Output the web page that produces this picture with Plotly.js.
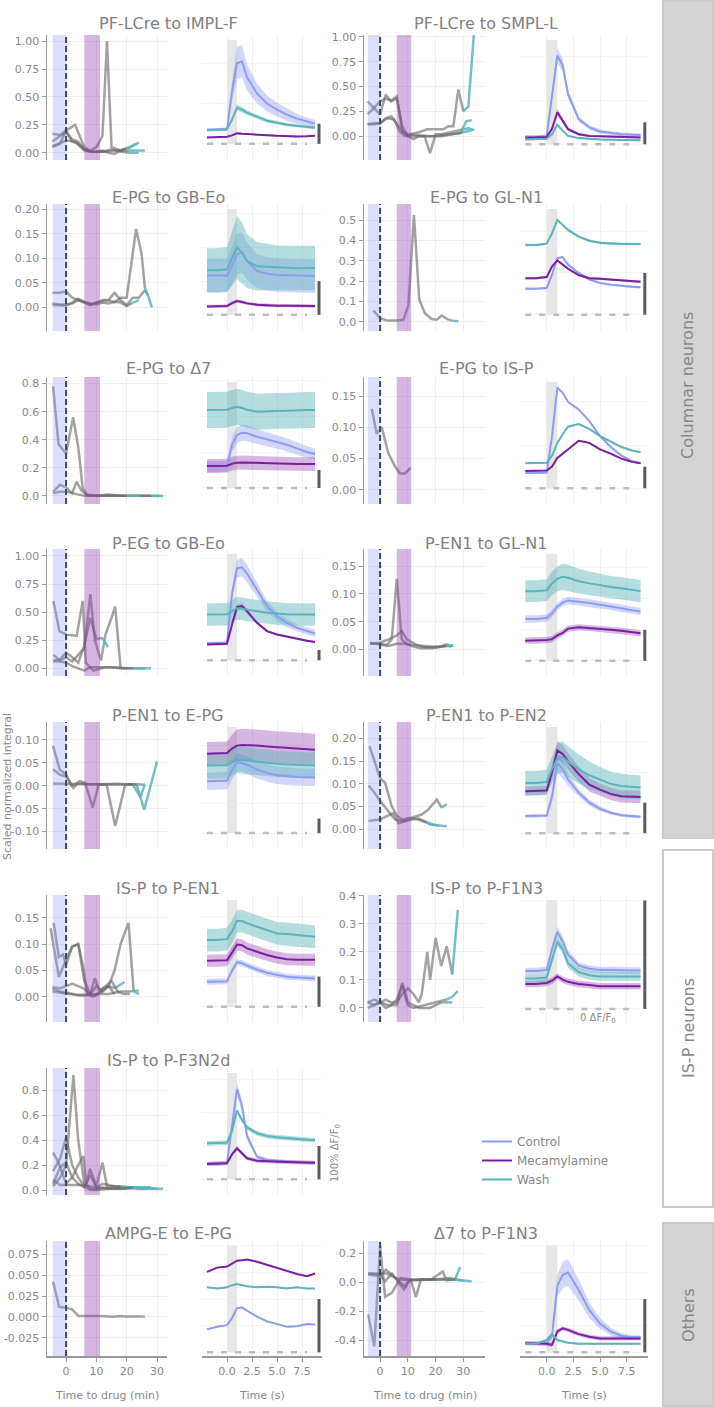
<!DOCTYPE html>
<html>
<head>
<meta charset="utf-8">
<script src="https://cdn.plot.ly/plotly-3.0.1.min.js"></script>
<style>
  body { margin: 0; background: #fff; }
  #chart { width: 714px; height: 1407px; }
</style>
</head>
<body>
<div id="chart"></div>
<script>
// ---- data ----

var panelTitles = ['PF-LCre to IMPL-F', 'PF-LCre to SMPL-L', 'E-PG to GB-Eo', 'E-PG to GL-N1',
  'E-PG to Δ7', 'E-PG to IS-P', 'P-EG to GB-Eo', 'P-EN1 to GL-N1', 'P-EN1 to E-PG',
  'P-EN1 to P-EN2', 'IS-P to P-EN1', 'IS-P to P-F1N3', 'IS-P to P-F3N2d',
  'AMPG-E to E-PG', 'Δ7 to P-F1N3'];

// time of the averaged responses (s)
var traceTime = [-2, -1, 0, 0.5, 1, 1.5, 2, 3, 4, 5, 6, 7, 8, 8.8];

// mean response, in units of the 100% dF/F0 scale bar, one row per panel
var controlMean = [
  [0.7,0.7,0.72,2.6,4.0,4.1,3.3,2.5,2.0,1.7,1.45,1.25,1.1,1.0],
  [0.34,0.34,0.38,2.2,4.05,3.6,2.3,1.15,0.77,0.58,0.51,0.46,0.43,0.42],
  [1.17,1.16,1.17,1.45,1.8,1.85,1.6,1.3,1.22,1.18,1.17,1.16,1.15,1.15],
  [0.62,0.62,0.64,0.95,1.35,1.38,1.2,1.0,0.84,0.76,0.72,0.69,0.67,0.66],
  [1.19,1.19,1.22,2.4,2.95,3.07,3.05,2.85,2.7,2.57,2.4,2.2,2.0,1.89],
  [0.7,0.7,0.72,2.4,4.66,4.42,4.0,3.65,3.11,2.41,1.91,1.51,1.25,1.16],
  [1.65,1.65,1.7,6.5,9.0,9.1,8.5,6.9,5.3,4.3,3.66,3.17,2.85,2.62],
  [1.35,1.35,1.38,1.53,1.75,1.88,1.95,1.92,1.87,1.81,1.76,1.7,1.63,1.59],
  [3.56,3.56,3.6,4.3,4.85,4.8,4.69,4.35,4.13,3.97,3.9,3.85,3.83,3.83],
  [0.56,0.56,0.58,1.2,2.3,2.1,1.76,1.33,1.0,0.8,0.67,0.59,0.55,0.54],
  [0.83,0.83,0.85,1.2,1.48,1.45,1.37,1.24,1.13,1.06,1.0,0.97,0.95,0.94],
  [0.35,0.35,0.36,0.55,0.71,0.62,0.5,0.4,0.37,0.36,0.36,0.355,0.355,0.355],
  [0.48,0.48,0.5,1.6,2.7,2.2,1.3,0.68,0.58,0.55,0.53,0.52,0.5,0.5],
  [0.43,0.48,0.51,0.64,0.83,0.84,0.78,0.67,0.58,0.53,0.48,0.49,0.53,0.52],
  [0.17,0.17,0.18,0.3,1.25,1.45,1.5,1.17,0.79,0.54,0.39,0.31,0.28,0.28]
];
var controlSem = [
  [0.08,0.08,0.1,0.5,0.8,0.8,0.65,0.5,0.4,0.35,0.3,0.25,0.2,0.18],
  [0.08,0.08,0.08,0.25,0.35,0.3,0.2,0.12,0.1,0.1,0.08,0.08,0.08,0.08],
  [0.5,0.5,0.5,0.55,0.6,0.6,0.55,0.5,0.5,0.5,0.5,0.5,0.5,0.5],
  0.03,
  [0.3,0.3,0.3,0.4,0.45,0.45,0.45,0.42,0.4,0.38,0.36,0.34,0.32,0.3],
  0.04,
  [0.15,0.15,0.15,0.5,0.9,0.9,0.85,0.7,0.55,0.45,0.4,0.35,0.35,0.35],
  0.12,
  0.6,
  [0.05,0.05,0.05,0.2,0.3,0.3,0.2,0.12,0.1,0.08,0.06,0.05,0.05,0.05],
  0.1,
  [0.03,0.03,0.03,0.04,0.05,0.05,0.04,0.03,0.03,0.03,0.03,0.03,0.03,0.03],
  [0.05,0.05,0.05,0.15,0.2,0.18,0.12,0.06,0.05,0.05,0.05,0.05,0.05,0.05],
  0.01,
  [0.02,0.02,0.02,0.06,0.2,0.25,0.25,0.2,0.15,0.1,0.07,0.05,0.04,0.04]
];
var mecMean = [
  [0.32,0.33,0.35,0.42,0.52,0.5,0.48,0.45,0.43,0.4,0.38,0.37,0.38,0.4],
  [0.3,0.31,0.33,0.7,1.46,1.08,0.69,0.46,0.38,0.36,0.34,0.33,0.32,0.31],
  [0.25,0.25,0.26,0.35,0.41,0.38,0.34,0.3,0.28,0.27,0.27,0.26,0.26,0.26],
  [0.875,0.875,0.9,1.15,1.3,1.2,1.1,0.95,0.875,0.86,0.84,0.82,0.8,0.79],
  [1.22,1.22,1.24,1.35,1.41,1.42,1.41,1.38,1.36,1.35,1.34,1.33,1.33,1.33],
  [0.8,0.8,0.82,1.0,1.4,1.6,1.8,2.2,2.1,1.8,1.6,1.37,1.22,1.16],
  [1.55,1.55,1.6,3.5,5.2,5.3,4.8,3.66,2.85,2.52,2.3,2.1,1.9,1.78],
  [0.65,0.65,0.67,0.7,0.82,0.9,1.04,1.08,1.06,1.04,1.0,0.97,0.92,0.89],
  [5.44,5.44,5.49,5.8,6.0,6.05,6.05,6.0,5.94,5.9,5.83,5.78,5.74,5.71],
  [1.38,1.38,1.4,2.0,2.72,2.6,2.36,1.94,1.59,1.43,1.29,1.21,1.19,1.19],
  [1.53,1.53,1.55,1.8,2.07,2.05,1.94,1.83,1.72,1.64,1.58,1.56,1.56,1.56],
  [0.23,0.23,0.24,0.26,0.3,0.27,0.25,0.23,0.22,0.21,0.21,0.21,0.21,0.21],
  [0.46,0.46,0.48,0.75,0.93,0.78,0.63,0.56,0.54,0.53,0.52,0.51,0.5,0.5],
  [1.51,1.59,1.61,1.66,1.72,1.73,1.74,1.7,1.64,1.58,1.53,1.47,1.43,1.48],
  [0.17,0.17,0.16,0.14,0.39,0.45,0.42,0.34,0.29,0.26,0.26,0.26,0.26,0.26]
];
var mecSem = [
  0.04,
  [0.05,0.05,0.05,0.1,0.15,0.12,0.08,0.06,0.05,0.05,0.05,0.05,0.05,0.05],
  0.05, 0.03, 0.38, 0.04,
  [0.1,0.1,0.1,0.2,0.3,0.3,0.25,0.15,0.1,0.1,0.1,0.1,0.1,0.1],
  0.1,
  [0.8,0.8,0.8,0.95,1.1,1.1,1.1,1.1,1.1,1.1,1.1,1.1,1.1,1.1],
  [0.15,0.15,0.15,0.25,0.3,0.3,0.28,0.25,0.22,0.2,0.2,0.2,0.2,0.2],
  0.2, 0.03, 0.06, 0.01, 0.04
];
var washMean = [
  [0.68,0.7,0.72,1.2,1.8,1.7,1.55,1.35,1.15,1.05,0.95,0.9,0.85,0.8],
  [0.22,0.23,0.25,0.45,0.89,0.62,0.38,0.28,0.24,0.22,0.21,0.2,0.19,0.18],
  [1.32,1.32,1.35,1.65,2.0,1.85,1.6,1.44,1.42,1.4,1.39,1.38,1.39,1.39],
  [1.67,1.67,1.7,1.95,2.27,2.15,2.03,1.87,1.77,1.72,1.7,1.69,1.69,1.69],
  [4.33,4.33,4.35,4.45,4.52,4.45,4.35,4.24,4.24,4.28,4.3,4.33,4.33,4.33],
  [1.16,1.16,1.18,1.5,2.1,2.5,2.85,2.97,2.75,2.41,2.17,1.91,1.75,1.67],
  [4.47,4.47,4.5,4.8,5.1,5.05,4.95,4.8,4.65,4.56,4.5,4.47,4.47,4.47],
  [2.25,2.25,2.28,2.5,2.65,2.71,2.68,2.57,2.5,2.43,2.38,2.34,2.3,2.25],
  [4.63,4.63,4.65,4.85,5.03,5.0,4.99,4.9,4.81,4.75,4.7,4.67,4.65,4.63],
  [1.65,1.65,1.68,2.1,2.45,2.5,2.35,2.1,1.9,1.75,1.62,1.55,1.52,1.5],
  [2.22,2.22,2.25,2.5,2.85,2.85,2.78,2.67,2.56,2.44,2.42,2.39,2.35,2.33],
  [0.28,0.28,0.29,0.45,0.62,0.55,0.42,0.34,0.31,0.3,0.3,0.3,0.3,0.3],
  [1.08,1.08,1.1,1.45,2.06,1.78,1.56,1.38,1.3,1.26,1.23,1.21,1.19,1.18],
  [1.22,1.2,1.22,1.26,1.28,1.26,1.24,1.22,1.23,1.22,1.2,1.22,1.2,1.2],
  [0.16,0.16,0.23,0.34,0.23,0.2,0.18,0.16,0.16,0.16,0.16,0.16,0.16,0.16]
];
var washSem = [
  [0.06,0.06,0.06,0.1,0.15,0.14,0.12,0.1,0.09,0.08,0.08,0.07,0.07,0.07],
  0.04,
  [0.66,0.66,0.66,0.8,0.93,0.9,0.8,0.72,0.68,0.66,0.66,0.66,0.66,0.66],
  0.03, 1.0, 0.04, 1.1,
  [0.35,0.35,0.35,0.38,0.4,0.42,0.42,0.4,0.38,0.37,0.36,0.36,0.36,0.36],
  0.9,
  [0.4,0.4,0.4,0.45,0.5,0.5,0.5,0.48,0.45,0.42,0.4,0.4,0.4,0.4],
  0.38, 0.04, 0.07, 0.01, 0.02
];

// scaled normalized integral vs time to drug (min); several experiments per panel
var drugTimes = [
  [[-4.5,-2,0,3,6,8,10,12,13.5,15,18,21,24],
   [-4.5,-2,0,2,4,6,8,10,13,16,19,22,26],
   [-4.5,-2,0,2,4,6,8,10,12,14,16,18,20,23],
   [-4.5,-2,0,3,6,9,12,15,18,21,24]],
  [[-4.5,-2,0,2.5,5,7,9,11,14,17,20,22.8,24.6,26.4,28.2,30,31.8,34],
   [-4.5,-2,0,2,4,6,8,10,12,14,16,18,20,22,24,27,30,32,34],
   [-4.5,-2,0,2,4,6,8,10,14,18,22,26,29,31,33],
   [-4.5,-2.5,0,2,4,6,8,10,14,18,22,26,30,33]],
  [[-4.5,-2,0,2,4,6,8,10,12,14,16,18,20,23.1,24.9,26,27,28.3],
   [-4.5,-2,0,2,4,6,8,10,12,14,16,18,20,22,24,26,27],
   [-4.5,-2,0,2,4,6,8,10,12,14,16,18,20,22,24]],
  [[-2.4,0,2.4,6,8.4,10.2,12.2,14.1,16.2,18.6,20.4,22.2,24.6,26.4,28.2]],
  [[-4.3,-2.5,0,2.3,4,5.5,7,10,14,18,22,26,29,32],
   [-4.3,-2,0,2,3.5,5,7,10,15,20,25,28,31],
   [-4.3,-2,0,2,4,6,8,12,16,20,24]],
  [[-3,-1.2,0.6,3,5.4,7.2,9,11]],
  [[-4.2,-2.2,0,3.5,5.5,6.5,9,13,16,20,24,26],
   [-4.2,-2,0,2,4,6,8,9.5,11.5,13,15,16.2,18,20],
   [-4.2,-2,0,2,4,6,8,10,12,13.8],
   [-4.2,-2,0,2,4,6,8,10,14,18,22,25,28]],
  [[-3.6,0,2.4,4.2,6,7.8,9.6,11.4,14.4,18.6,21.6,24,25.2,26.4],
   [-3.6,0,3,6,7.8,9.6,13.2,16,20,24,26],
   [-3.6,0,3,6,9,12,15,18,21,24,26]],
  [[-4.3,-2.1,0,1.9,4.6,6.3,8.8,10.7,13.4,16.2,19.5,23.3,25.8,30],
   [-4.3,-2.1,0,2.4,4,8,12,16,20,22,24.5,26],
   [-4.3,0,4,8,12,16,20,24,26]],
  [[-3.8,-2,0,1.8,4.2,6,7.8,10.8,13.8,16.8,18,21,24],
   [-4.2,-2,0,2.4,5.4,8.4,11.4,13.8,16.8,19,21],
   [-4.2,-2,0,3,4.8,6.6,9,12,15,17.4,20.4,22.2,24]],
  [[-5.1,-2.4,0,2,4,5.5,7,9,12,14,16,18,20.6,22.3,24],
   [-4.1,-2.4,-1,0,2,4,6,8,10,12,14,16],
   [-4.5,-2,0,2,4,6,8,10,12,14,16,19.3],
   [-4.5,-2,0,2,4,6,8,10,12,14,18,21,24],
   [-4.5,-2,0,2,4,6,8,9.5,11,13,15,17,19,21]],
  [[-4.5,-2,0,2,4,6,8,10,12,14,15,17,18,20,22,24,26,28],
   [-4.5,-2,0,2,4,6,8,10,12,16,20,24,26,28],
   [-4.5,0,3,6,8,10,14,18,22,26]],
  [[-4.3,-2,0,2.4,4,6,8,10,12,16,20,24,28],
   [-4.3,-2,0,2,4,6,8,10,14,18,22,26,30],
   [-4.3,-2.5,0,2,4,5.7,6.7,7.9,10,12,13.5,16,20,24,28],
   [-4.3,-2,0,2,4,6,8,10,12,14,16,18,22,26],
   [-4.3,-2,0,3,6,10,14,18,22,26,30,32]],
  [[-4.3,-2.3,0,1.9,4.1,6.8,11.2,15.6,17.8,20,23,25,26]],
  [[-4.3,-2.1,0,1.8,4.3,7.3,11,12.9,14.7,18.4,22.6,23.9,27,28.8],
   [-4.3,0,1.8,4.3,8.6,11,15,20,25,28.8,33],
   [-4.3,0,2.1,4.3,6.7,8.9,10.4,15.3,20.2,25,30],
   [-4.3,0,2.5,6.8,11,17.5,27]]
];
var drugValues = [
  [[0.05,0.08,0.2,0.25,0.05,0.02,0.05,0.15,1.0,0.05,0.02,0.045,0.09],
   [0.1,0.15,0.18,0.12,0.1,0.03,0.01,0.01,0.01,0.02,0.02,0.02,0.02],
   [0.17,0.16,0.2,0.1,0.08,0.03,0.01,0.01,0.02,0.0,-0.01,0.02,0.04,0.08],
   [0.06,0.09,0.11,0.1,0.02,0.01,0.01,0.03,0.01,0.0,0.0]],
  [[0.12,0.12,0.13,0.18,0.17,0.05,0.0,0.02,0.04,0.07,0.07,0.07,0.1,0.1,0.47,0.25,0.3,1.1],
   [0.35,0.28,0.22,0.42,0.35,0.38,0.1,0.0,-0.03,0.0,0.0,-0.17,0.02,0.02,0.03,0.05,0.07,0.08,0.06],
   [0.12,0.13,0.13,0.18,0.2,0.12,0.05,0.0,0.0,0.0,0.01,0.02,0.03,0.15,0.16],
   [0.22,0.28,0.35,0.38,0.36,0.4,0.05,0.02,0.01,0.0,0.0,0.02,0.04,0.06]],
  [[0.03,0.03,0.033,0.02,0.015,0.01,0.005,0.01,0.015,0.015,0.01,0.02,0.02,0.16,0.11,0.04,0.025,0.0],
   [0.008,0.006,0.006,0.008,0.015,0.01,0.005,0.01,0.012,0.015,0.03,0.015,0.005,0.02,0.02,0.035,0.025],
   [0.005,0.004,0.004,0.01,0.018,0.012,0.008,0.006,0.01,0.008,0.012,0.01,0.003,0.01,0.015]],
  [[0.055,0.017,0.006,0.006,0.01,0.08,0.525,0.11,0.04,0.013,0.01,0.03,0.01,0.004,0.002]],
  [[0.78,0.37,0.3,0.56,0.35,0.05,0.01,0.0,0.01,0.0,0.0,0.0,0.0,0.0],
   [0.03,0.08,0.06,0.02,0.1,0.04,0.0,0.0,0.0,0.0,0.0,0.0,0.0],
   [0.02,0.03,0.03,0.02,0.01,0.0,0.0,0.0,0.0,0.0,0.0]],
  [[0.13,0.09,0.1,0.058,0.037,0.026,0.026,0.035]],
  [[0.6,0.33,0.3,0.29,0.6,0.05,-0.02,0.01,0.01,0.0,0.0,0.0],
   [0.12,0.07,0.1,0.06,0.12,0.18,0.66,0.25,0.07,0.3,0.45,0.55,0.0,0.0],
   [0.07,0.08,0.14,0.1,0.05,0.2,0.45,0.26,0.27,0.19],
   [0.06,0.06,0.05,0.02,0.0,-0.02,0.01,0.01,0.01,0.0,0.0,0.0,0.0]],
  [[0.01,0.01,0.008,0.018,0.127,0.018,0.01,0.006,0.002,0.002,0.004,0.01,0.005,0.007],
   [0.01,0.012,0.018,0.025,0.033,0.018,0.008,0.004,0.004,0.006,0.008],
   [0.012,0.008,0.006,0.01,0.01,0.008,0.006,0.005,0.005,0.006,0.007]],
  [[0.087,0.035,0.025,0.0,0.01,0.006,-0.048,0.002,0.002,-0.088,0.002,0.002,-0.052,0.053],
   [0.036,0.024,0.02,-0.005,0.005,0.003,0.003,0.004,0.003,0.003,-0.025,0.003],
   [0.005,0.004,0.003,0.003,0.003,0.004,0.003,0.003,0.002]],
  [[0.183,0.15,0.112,0.102,0.05,0.03,0.021,0.025,0.021,0.014,0.01,0.008,0.006],
   [0.096,0.08,0.062,0.043,0.021,0.018,0.02,0.023,0.015,0.01,0.008],
   [0.018,0.019,0.021,0.03,0.035,0.013,0.017,0.026,0.032,0.043,0.065,0.047,0.055]],
  [[0.13,0.038,0.07,0.095,0.1,0.06,0.005,0.0,0.01,0.02,0.05,0.1,0.14,0.01,0.005],
   [0.14,0.075,0.08,0.06,0.095,0.1,0.03,0.005,0.003,0.015,0.02,0.005],
   [0.018,0.016,0.02,0.025,0.02,0.015,0.005,0.02,0.01,0.02,0.016,0.028],
   [0.01,0.008,0.005,0.004,0.003,0.004,0.003,0.005,0.005,0.005,0.01,0.01,0.012],
   [0.015,0.01,0.008,0.005,0.003,0.002,0.005,0.035,0.01,0.02,0.03,0.01,0.005,0.005]],
  [[0.02,0.03,0.02,0.03,0.02,0.02,0.05,0.07,0.05,0.02,0.05,0.2,0.1,0.25,0.15,0.22,0.12,0.35],
   [0.02,0.01,0.02,0.0,0.01,0.03,0.08,0.01,0.0,0.01,0.02,0.03,0.04,0.06],
   [0.0,0.02,0.01,0.01,0.09,0.02,0.0,0.0,0.02,0.02]],
  [[0.03,0.1,0.2,0.92,0.4,0.05,0.01,0.01,0.02,0.01,0.01,0.02,0.02],
   [0.15,0.25,0.42,0.2,0.1,0.03,0.0,0.0,0.01,0.02,0.02,0.01,0.01],
   [0.3,0.22,0.05,0.1,0.2,0.27,0.05,0.17,0.03,0.22,0.03,0.03,0.02,0.01,0.02],
   [0.05,0.18,0.22,0.1,0.05,0.02,0.12,0.02,0.05,0.04,0.03,0.03,0.02,0.01],
   [0.08,0.04,0.04,0.04,0.04,0.02,0.01,0.01,0.02,0.02,0.01,0.01]],
  [[0.042,0.012,0.011,0.009,0.001,0.001,0.001,0.0,0.001,0.0005,0.0,0.0005,0.0]],
  [[-0.22,-0.44,0.25,-0.1,-0.07,0.03,0.02,-0.1,0.02,0.02,0.075,0.014,0.02,0.105],
   [0.06,0.053,0.007,0.06,-0.05,0.02,0.02,0.02,0.03,0.014,0.007],
   [0.053,0.04,0.087,0.053,0.007,-0.027,0.014,0.018,0.02,0.02,0.014],
   [0.06,0.06,0.06,0.02,0.014,0.02,0.02]]
];
// index of the first wash point in each experiment (99 = no wash recorded)
var washFrom = [
  [11, 10, 12, 9], [15, 16, 12, 12], [15, 15, 13], [13], [12, 11, 9], [99],
  [10, 12, 8, 10], [11, 9, 9], [11, 9, 7], [9, 8, 11], [13, 99, 10, 11, 99],
  [16, 11, 8], [10, 10, 12, 11, 8], [11], [12, 9, 8, 99]
];

// ---- layout of the grid ----
var W = 714, H = 1407;
var drugCols = [[47, 167], [364, 485]];
var traceCols = [[202, 322], [520, 648]];
var rowTop = [35, 204, 377, 549, 722, 895, 1068, 1241];
var rowBot = [160, 331, 504, 676, 849, 1022, 1195, 1356];
var panelRow = [0, 0, 1, 1, 2, 2, 3, 3, 4, 4, 5, 5, 6, 7, 7];
var panelSide = [0, 1, 0, 1, 0, 1, 0, 1, 0, 1, 0, 1, 0, 0, 1];
var drugXRange = [[-6.3, 33.3], [-5.8, 37.8]];
var drugYRange = [[-0.065, 1.055], [-0.24, 1.02], [-0.048, 0.211], [-0.046, 0.58],
  [-0.058, 0.847], [-0.023, 0.181], [-0.068, 1.062], [-0.048, 0.181], [-0.138, 0.139],
  [-0.044, 0.236], [-0.048, 0.193], [-0.05, 0.403], [-0.04, 0.976], [-0.047, 0.091],
  [-0.506, 0.284]];
var drugDtick = [0.25, 0.25, 0.05, 0.1, 0.2, 0.05, 0.25, 0.05, 0.05, 0.05, 0.05, 0.1, 0.2, 0.025, 0.2];
var drugDec = [2, 2, 2, 1, 1, 2, 2, 2, 2, 2, 2, 1, 1, 3, 1];
var traceYRange = [[-0.8, 5.4], [-0.72, 4.99], [-0.48, 3.29], [-0.39, 2.65], [-0.89, 6.17],
  [-0.73, 5.15], [-1.55, 10.9], [-0.49, 3.61], [-1.09, 7.62], [-0.52, 3.65], [-0.51, 3.72],
  [-0.12, 1.05], [-0.47, 3.34], [-0.07, 2.09], [-0.07, 2.09]];
var titleX = [168, 486];
var titleY = [23, 197, 368, 543, 715, 888, 1060, 1233];

var CTL = '#8e9cf0', MEC = '#7b1fa2', WASH = '#5cb3ba';
var TXT = '#878787';

function ax(n) { return n === 1 ? '' : String(n); }
function semAt(e, i) { return Array.isArray(e) ? e[i] : e; }

function bandTrace(mean, sem, color, xa, ya) {
  var up = mean.map(function (v, i) { return v + semAt(sem, i); });
  var dn = mean.map(function (v, i) { return v - semAt(sem, i); }).reverse();
  return {
    x: traceTime.concat(traceTime.slice().reverse()), y: up.concat(dn),
    xaxis: xa, yaxis: ya, mode: 'lines', fill: 'toself', fillcolor: color,
    line: {width: 0}, hoverinfo: 'skip', showlegend: false
  };
}

function yTicks(p) {
  var lo = drugYRange[p][0], hi = drugYRange[p][1], dt = drugDtick[p];
  var vals = [], txt = [];
  for (var k = Math.ceil(lo / dt - 1e-9); k * dt <= hi + 1e-9; k++) {
    var v = Math.round(k * dt * 1000) / 1000;
    vals.push(v);
    txt.push((v === 0 ? 0 : v).toFixed(drugDec[p]));
  }
  return {vals: vals, txt: txt};
}

var data = [], shapes = [], annotations = [];
var layout = {
  width: W, height: H,
  margin: {l: 0, r: 0, t: 0, b: 0},
  paper_bgcolor: '#fff', plot_bgcolor: 'rgba(0,0,0,0)',
  font: {family: 'DejaVu Sans, sans-serif', size: 11, color: TXT},
  showlegend: true,
  legend: {x: 477 / W, y: 1 - 1127 / H, xanchor: 'left', yanchor: 'top',
    font: {size: 12, color: TXT}, bgcolor: 'rgba(0,0,0,0)', tracegroupgap: 0}
};

panelTitles.forEach(function (title, p) {
  var r = panelRow[p], s = panelSide[p], bottom = (r === 7);
  var dn = 2 * p + 1, tn = 2 * p + 2;
  var dx = 'x' + ax(dn), dy = 'y' + ax(dn), tx = 'x' + ax(tn), ty = 'y' + ax(tn);
  var ydom = [1 - rowBot[r] / H, 1 - rowTop[r] / H];
  var tk = yTicks(p);

  layout['xaxis' + ax(dn)] = {
    domain: [drugCols[s][0] / W, drugCols[s][1] / W], range: drugXRange[s], anchor: dy,
    tickvals: [0, 10, 20, 30], showgrid: true, gridcolor: '#efefef', zeroline: false,
    showticklabels: bottom, ticks: bottom ? 'outside' : '', ticklen: 4, tickcolor: '#999',
    showline: bottom, linecolor: '#999', linewidth: 1.5
  };
  layout['yaxis' + ax(dn)] = {
    domain: ydom, range: drugYRange[p], anchor: dx,
    tickvals: tk.vals, ticktext: tk.txt, showgrid: true, gridcolor: '#efefef', zeroline: false,
    showline: true, linecolor: '#999', linewidth: 1.5, ticks: 'outside', ticklen: 4, tickcolor: '#999'
  };
  layout['xaxis' + ax(tn)] = {
    domain: [traceCols[s][0] / W, traceCols[s][1] / W], range: [-2.5, 9.5], anchor: ty,
    tickvals: [0, 2.5, 5, 7.5], ticktext: ['0.0', '2.5', '5.0', '7.5'],
    showgrid: true, gridcolor: '#f0f0f0', zeroline: false,
    showticklabels: bottom, ticks: bottom ? 'outside' : '', ticklen: 4, tickcolor: '#999',
    showline: bottom, linecolor: '#999', linewidth: 1.5
  };
  layout['yaxis' + ax(tn)] = {
    domain: ydom, range: traceYRange[p], anchor: tx, showticklabels: false,
    showgrid: true, gridcolor: '#f3f3f3', zeroline: false, nticks: 5, ticks: ''
  };

  // drug time course
  drugTimes[p].forEach(function (xs, k) {
    var ys = drugValues[p][k], w = washFrom[p][k];
    data.push({x: xs.slice(0, w + 1), y: ys.slice(0, w + 1), xaxis: dx, yaxis: dy,
      mode: 'lines', line: {color: 'rgba(105,105,105,0.62)', width: 2.5},
      hoverinfo: 'skip', showlegend: false});
    if (w < xs.length - 1) {
      data.push({x: xs.slice(w), y: ys.slice(w), xaxis: dx, yaxis: dy, mode: 'lines',
        line: {color: WASH, width: 2.5}, opacity: 0.85, hoverinfo: 'skip', showlegend: false});
    }
  });
  shapes.push({type: 'rect', xref: dx, yref: dy + ' domain', x0: -4.4, x1: 0, y0: 0, y1: 1,
    fillcolor: 'rgba(130,145,240,0.28)', line: {width: 0}, layer: 'above'});
  shapes.push({type: 'rect', xref: dx, yref: dy + ' domain', x0: 6, x1: 11.2, y0: 0, y1: 1,
    fillcolor: 'rgba(145,60,175,0.38)', line: {width: 0}, layer: 'above'});
  shapes.push({type: 'line', xref: dx, yref: dy + ' domain', x0: 0, x1: 0, y0: 0, y1: 1,
    line: {color: '#3f4654', width: 2, dash: '6px,3px'}, layer: 'above'});

  // averaged responses
  var yr = traceYRange[p];
  shapes.push({type: 'rect', xref: tx, yref: ty, x0: 0, x1: 1, y0: 0, y1: yr[0] + (yr[1] - yr[0]) * 0.96,
    fillcolor: '#e6e6e6', line: {width: 0}, layer: 'between'});
  shapes.push({type: 'line', xref: tx, yref: ty, x0: -2, x1: 8, y0: 0, y1: 0,
    line: {color: '#bdbdbd', width: 2.5, dash: '6px,8px'}, layer: 'between'});
  shapes.push({type: 'line', xref: tx, yref: ty, x0: 9.2, x1: 9.2, y0: 0, y1: 1,
    line: {color: '#5a5a5a', width: 3}, layer: 'above'});

  data.push(bandTrace(controlMean[p], controlSem[p], 'rgba(142,156,240,0.4)', tx, ty));
  data.push(bandTrace(mecMean[p], mecSem[p], 'rgba(140,45,170,0.35)', tx, ty));
  data.push(bandTrace(washMean[p], washSem[p], 'rgba(92,179,186,0.45)', tx, ty));
  [['Control', controlMean[p], CTL], ['Mecamylamine', mecMean[p], MEC], ['Wash', washMean[p], WASH]]
    .forEach(function (c) {
      data.push({x: traceTime, y: c[1], xaxis: tx, yaxis: ty, mode: 'lines', name: c[0],
        line: {color: c[2], width: 2}, hoverinfo: 'skip', showlegend: p === 0});
    });

  annotations.push({text: title, xref: 'paper', yref: 'paper', x: titleX[s] / W, y: 1 - titleY[r] / H,
    xanchor: 'center', yanchor: 'middle', showarrow: false, font: {size: 16, color: '#808080'}});

  if (bottom) {
    annotations.push({text: 'Time to drug (min)', xref: 'paper', yref: 'paper',
      x: (drugCols[s][0] + drugCols[s][1]) / 2 / W, y: 1 - 1395 / H, showarrow: false,
      xanchor: 'center', yanchor: 'middle', font: {size: 11, color: TXT}});
    annotations.push({text: 'Time (s)', xref: 'paper', yref: 'paper',
      x: (traceCols[s][0] + traceCols[s][1]) / 2 / W, y: 1 - 1395 / H, showarrow: false,
      xanchor: 'center', yanchor: 'middle', font: {size: 11, color: TXT}});
  }
  if (p === 11) {
    annotations.push({text: '0 ΔF/F<sub>0</sub>', xref: tx, yref: ty, x: 4.8, y: 0,
      yanchor: 'top', yshift: -1, showarrow: false, font: {size: 10, color: TXT}});
  }
});

annotations.push({text: 'Scaled normalized integral', xref: 'paper', yref: 'paper',
  x: 7 / W, y: 1 - 787 / H, textangle: -90, showarrow: false,
  xanchor: 'center', yanchor: 'middle', font: {size: 11, color: TXT}});
annotations.push({text: '100% ΔF/F<sub>0</sub>', xref: 'paper', yref: 'paper',
  x: 335 / W, y: 1 - 1153 / H, textangle: -90, showarrow: false,
  xanchor: 'center', yanchor: 'middle', font: {size: 10, color: TXT}});

// neuron group labels on the right
var groups = [['Columnar neurons', 1, 838, '#d4d4d4', 386], ['IS-P neurons', 850, 1207, '#ffffff', 1028],
  ['Others', 1223, 1406, '#d4d4d4', 1315]];
groups.forEach(function (g) {
  shapes.push({type: 'rect', xref: 'paper', yref: 'paper', x0: 663 / W, x1: 713 / W,
    y0: 1 - g[2] / H, y1: 1 - g[1] / H, fillcolor: g[3], line: {color: '#cbcbcb', width: 2}});
  annotations.push({text: g[0], xref: 'paper', yref: 'paper', x: 688 / W, y: 1 - g[4] / H,
    textangle: -90, showarrow: false, xanchor: 'center', yanchor: 'middle',
    font: {size: 16, color: TXT}});
});

layout.shapes = shapes;
layout.annotations = annotations;

Plotly.newPlot('chart', data, layout, {displayModeBar: false, staticPlot: true});
</script>
</body>
</html>
